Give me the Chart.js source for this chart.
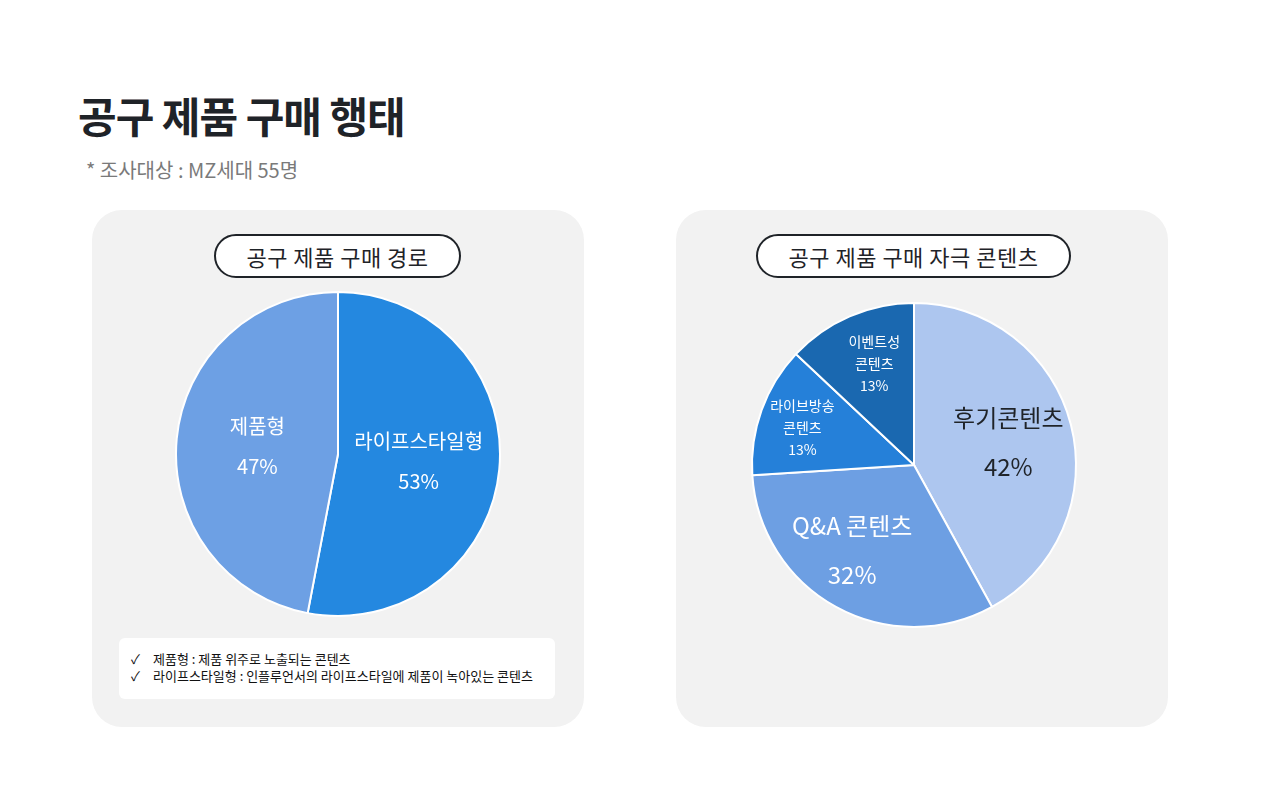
<!DOCTYPE html>
<html><head><meta charset="utf-8">
<script src="https://cdn.jsdelivr.net/npm/chart.js@4"></script>
<style>
body{margin:0;width:1280px;height:793px;background:#fff;font-family:"Noto Sans CJK KR","Noto Sans",sans-serif;position:relative;overflow:hidden}
.abs{position:absolute}
h1{position:absolute;left:78px;top:84px;margin:0;font-size:42px;font-weight:700;color:#1f2328;letter-spacing:-1px}
.sub{left:86px;top:155px;font-size:20px;color:#7a7a7a}
.panel{background:#f2f2f2;border-radius:30px;top:210px;width:492px;height:517px}
.pill{top:234px;height:40px;border:2.5px solid #1f2328;border-radius:22px;background:#fff;font-size:22px;color:#1f2328;text-align:center;line-height:40px;letter-spacing:0.5px}
.note{left:119px;top:638px;width:436px;height:61px;background:#fff;border-radius:6px;font-size:13px;color:#111;box-sizing:border-box;padding:12px 0 0 12px;line-height:17px}
.note span{display:inline-block;width:22px}
</style></head><body>
<h1>공구 제품 구매 행태</h1>
<div class="abs sub">* 조사대상 : MZ세대 55명</div>
<div class="abs panel" style="left:92px"></div>
<div class="abs panel" style="left:676px"></div>
<div class="abs pill" style="left:214px;width:243px">공구 제품 구매 경로</div>
<div class="abs pill" style="left:756px;width:311px">공구 제품 구매 자극 콘텐츠</div>
<div class="abs" style="left:173px;top:289px;width:330px;height:330px"><canvas id="c1"></canvas></div>
<div class="abs" style="left:749px;top:300px;width:330px;height:330px"><canvas id="c2"></canvas></div>
<div class="abs note"><span>✓</span>제품형 : 제품 위주로 노출되는 콘텐츠<br><span>✓</span>라이프스타일형 : 인플루언서의 라이프스타일에 제품이 녹아있는 콘텐츠</div>
<script>
const routeLabels=[["라이프스타일형"],["제품형"]];
const routeValues=[53,47];
const routeColors=["#2488e0","#6da0e4"];
const stimLabels=[["후기콘텐츠"],["Q&A 콘텐츠"],["라이브방송","콘텐츠"],["이벤트성","콘텐츠"]];
const stimValues=[42,32,13,13];
const stimColors=["#adc6ef","#6d9fe3","#2580d9","#1a68b0"];

const labelPlugin={id:'lbl',afterDatasetsDraw(chart,args,opts){
  const ctx=chart.ctx;const meta=chart.getDatasetMeta(0);
  meta.data.forEach((arc,i)=>{
    const p=arc.getProps(['startAngle','endAngle','outerRadius','x','y'],true);
    const a=(p.startAngle+p.endAngle)/2;const r=p.outerRadius*opts.frac[i];
    const x=p.x+Math.cos(a)*r,y=p.y+Math.sin(a)*r;
    const lines=chart.data.labels[i].concat([chart.data.datasets[0].data[i]+'%']);
    const fs=opts.size[i],lh=opts.lh[i];
    ctx.save();ctx.fillStyle=opts.color[i];ctx.textAlign='center';ctx.textBaseline='middle';
    ctx.font=`${fs}px "Noto Sans CJK KR"`;
    const h=(lines.length-1)*lh;
    lines.forEach((t,k)=>ctx.fillText(t,x+(opts.dx[i]||0),y-h/2+k*lh));
    ctx.restore();
  });
}};
function make(id,labels,values,colors,o){
  new Chart(document.getElementById(id),{type:'pie',
    data:{labels:labels,datasets:[{data:values,backgroundColor:colors,borderColor:'#fff',borderWidth:2}]},
    options:{responsive:true,maintainAspectRatio:false,animation:false,layout:{padding:2},
      plugins:{legend:{display:false},tooltip:{enabled:false},lbl:o}},
    plugins:[labelPlugin]});
}
make('c1',routeLabels,routeValues,routeColors,{frac:[0.5,0.5],size:[20,20],lh:[40,40],color:['#fff','#fff'],dx:[0,0]});
make('c2',stimLabels,stimValues,stimColors,{frac:[0.55,0.6,0.68,0.68],size:[24,24,14,14],lh:[49,49,22,22],color:['#1f2328','#fff','#fff','#fff'],dx:[8,-15,-8,4]});
</script></body></html>
